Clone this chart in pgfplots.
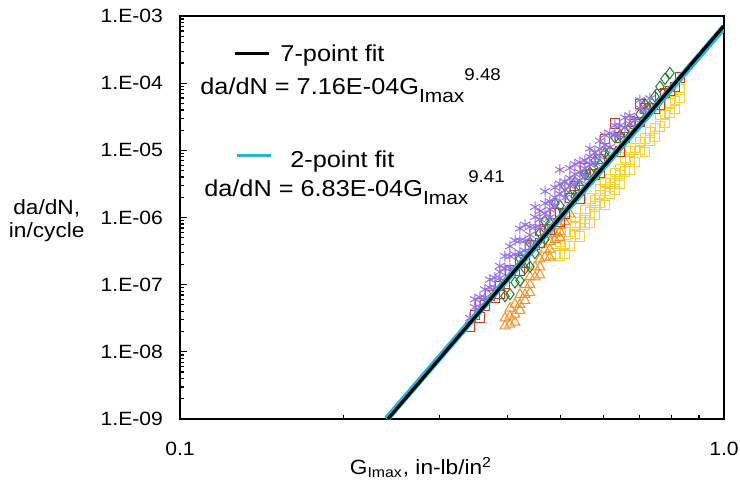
\documentclass[border=0pt]{standalone}
\usepackage{fontspec}
\setmainfont{Liberation Sans}[FakeStretch=1.1]
\usepackage{pgfplots}
\pgfplotsset{compat=1.18}
\definecolor{cfit}{RGB}{30,185,225}
\definecolor{cred}{RGB}{225,50,30}
\definecolor{corange}{RGB}{255,140,30}
\definecolor{cyellow}{RGB}{255,208,50}
\definecolor{cgreen}{RGB}{30,130,40}
\definecolor{cpurple}{RGB}{150,110,240}
\newcommand{\legfont}{\fontsize{11.5}{13}\selectfont}
\newcommand{\Gfit}[1]{G\raisebox{-0.32em}{\fontsize{9.5}{9.5}\selectfont Imax}\raisebox{0.64em}{\fontsize{8.5}{8.5}\selectfont #1}}
\begin{document}
\begin{tikzpicture}
\begin{axis}[
  width=272pt, height=201.5pt, scale only axis,
  xmode=log, ymode=log, xmin=0.1, xmax=1, ymin=1e-9, ymax=1e-3,
  xtick={0.1,1}, xticklabels={0.1,1.0},
  minor xtick={0.2,0.3,0.4,0.5,0.6,0.7,0.8,0.9},
  ytick={1e-9,1e-8,1e-7,1e-6,1e-5,1e-4,1e-3},
  yticklabels={1.E-09,1.E-08,1.E-07,1.E-06,1.E-05,1.E-04,1.E-03},
  minor ytick={2e-9,3e-9,4e-9,5e-9,6e-9,7e-9,8e-9,9e-9,
               2e-8,3e-8,4e-8,5e-8,6e-8,7e-8,8e-8,9e-8,
               2e-7,3e-7,4e-7,5e-7,6e-7,7e-7,8e-7,9e-7,
               2e-6,3e-6,4e-6,5e-6,6e-6,7e-6,8e-6,9e-6,
               2e-5,3e-5,4e-5,5e-5,6e-5,7e-5,8e-5,9e-5,
               2e-4,3e-4,4e-4,5e-4,6e-4,7e-4,8e-4,9e-4},
  tick pos=left, tick align=inside,
  major tick length=3.5pt, minor tick length=2pt,
  axis line style={line width=1.2pt},
  every tick/.style={black, line width=0.6pt},
  ticklabel style={font=\fontsize{9.6}{11}\selectfont},
  yticklabel style={xshift=-5pt},
  xticklabel style={yshift=-8pt},
  clip mode=individual,
  mark options={solid, line width=0.5pt, fill=none},
]
% yellow squares
\addplot[only marks, mark=square, mark size=2.4pt, color=cyellow] coordinates {
(0.4890,2.905e-7) (0.4994,2.700e-7) (0.4994,4.361e-7) (0.5101,4.053e-7) (0.5101,6.114e-7)
(0.5210,3.766e-7) (0.5210,6.085e-7) (0.5322,5.656e-7) (0.5322,9.78e-7) (0.5435,8.49e-7)
(0.5435,5.254e-7) (0.5552,1.275e-6) (0.5552,7.89e-7) (0.5670,1.185e-6) (0.5670,1.914e-6)
(0.5792,1.101e-6) (0.5792,1.779e-6) (0.5915,1.653e-6) (0.5915,2.671e-6) (0.6042,2.476e-6)
(0.6042,1.532e-6) (0.6170,3.718e-6) (0.6170,2.301e-6) (0.6302,3.455e-6) (0.6437,5.186e-6)
(0.6437,3.211e-6) (0.6575,4.82e-6) (0.6575,7.79e-6) (0.6715,7.24e-6) (0.6859,6.725e-6)
(0.6859,1.087e-5) (0.7005,1.010e-5) (0.7156,1.516e-5) (0.7156,9.39e-6) (0.7311,1.409e-5)
(0.7465,2.115e-5) (0.7627,2.256e-5) (0.7627,3.402e-5) (0.7789,3.378e-5) (0.7956,3.601e-5)
(0.7956,5.072e-5) (0.8126,5.408e-5) (0.8300,6.172e-5) (0.8300,8.12e-5)
(0.5101,2.876e-7) (0.5322,7.44e-7) (0.5552,9.69e-7) (0.5670,8.41e-7) (0.5792,1.448e-6)
(0.5915,2.175e-6) (0.6042,3.257e-6) (0.6170,2.827e-6) (0.6302,4.545e-6) (0.6302,2.627e-6)
(0.6437,4.224e-6) (0.6715,5.139e-6) (0.6715,9.52e-6) (0.7005,1.329e-5) (0.7311,1.854e-5)
(0.7465,1.608e-5) (0.7789,2.568e-5) (0.8126,4.111e-5)
};
% orange triangles
\addplot[only marks, mark=triangle, mark size=2.8pt, color=corange] coordinates {
(0.3958,2.418e-8) (0.3958,3.181e-8) (0.4042,2.578e-8) (0.4042,3.390e-8) (0.4042,4.460e-8)
(0.4129,3.614e-8) (0.4129,5.091e-8) (0.4217,5.066e-8) (0.4217,7.137e-8) (0.4308,7.10e-8)
(0.4308,1.000e-7) (0.4399,9.96e-8) (0.4399,1.310e-7) (0.4494,1.303e-7) (0.4494,1.836e-7)
(0.4589,1.828e-7) (0.4589,2.404e-7) (0.4688,2.562e-7) (0.4688,3.370e-7) (0.4787,3.346e-7)
(0.4787,4.401e-7) (0.4890,4.692e-7) (0.4890,5.765e-7) (0.4994,6.143e-7) (0.4994,7.545e-7)
(0.5101,8.61e-7) (0.5210,1.127e-6)
(0.4129,2.747e-8) (0.4217,4.125e-8) (0.4308,5.783e-8) (0.4399,7.57e-8) (0.4589,1.390e-7)
(0.4787,2.544e-7) (0.4994,5.001e-7)
};
% red squares
\addplot[only marks, mark=square, mark size=2.4pt, color=cred] coordinates {
(0.3412,2.339e-8) (0.3485,3.513e-8) (0.3560,3.264e-8) (0.3636,4.90e-8) (0.3714,6.87e-8)
(0.3793,6.37e-8) (0.3875,9.57e-8) (0.3958,1.020e-7) (0.4042,1.640e-7) (0.4129,1.632e-7)
(0.4217,2.288e-7) (0.4308,2.126e-7) (0.4399,3.92e-7) (0.4494,3.90e-7) (0.4589,4.16e-7)
(0.4688,6.69e-7) (0.4787,6.64e-7) (0.4890,1.144e-6) (0.4994,1.138e-6) (0.5101,1.133e-6)
(0.5210,1.950e-6) (0.5322,2.928e-6) (0.5435,2.541e-6) (0.5552,5.375e-6) (0.5670,4.355e-6)
(0.5792,4.335e-6) (0.5915,7.46e-6) (0.6042,1.471e-5) (0.6170,9.06e-6) (0.6302,2.520e-5)
(0.6437,1.553e-5) (0.6575,1.545e-5) (0.6715,2.661e-5) (0.6859,2.474e-5) (0.7005,2.636e-5)
(0.7156,4.24e-5) (0.7311,4.22e-5) (0.7465,4.20e-5) (0.7627,6.75e-5) (0.7789,7.18e-5)
(0.7956,7.65e-5) (0.8126,8.74e-5) (0.8300,1.2246e-4)
(0.3560,5.274e-8) (0.3875,7.27e-8) (0.4217,1.624e-7) (0.4589,6.275e-7) (0.4994,8.65e-7)
(0.5435,1.932e-6) (0.5915,4.618e-6) (0.6437,9.61e-6) (0.7005,4.884e-5) (0.7627,4.793e-5)
};
% green diamonds
\addplot[only marks, mark=diamond, mark size=2.8pt, color=cgreen] coordinates {
(0.3958,6.76e-8) (0.4042,7.21e-8) (0.4129,1.082e-7) (0.4217,1.153e-7) (0.4308,1.731e-7)
(0.4399,1.845e-7) (0.4494,2.966e-7) (0.4217,2.450e-7) (0.4399,4.20e-7) (0.4589,5.86e-7)
(0.4688,8.80e-7) (0.4787,8.15e-7) (0.4890,1.611e-6) (0.4994,1.497e-6) (0.5101,2.957e-6)
(0.5210,2.089e-6) (0.5322,3.358e-6) (0.5435,2.914e-6) (0.5552,4.376e-6) (0.5670,4.664e-6)
(0.5792,7.00e-6) (0.5915,6.078e-6) (0.6042,9.11e-6) (0.6170,9.70e-6) (0.6437,1.663e-5)
(0.6715,2.167e-5) (0.7005,3.467e-5) (0.7311,4.518e-5) (0.7627,8.88e-5) (0.7789,1.160e-4)
(0.7956,1.418e-4)
(0.4688,4.747e-7) (0.5322,2.079e-6) (0.6302,1.561e-5) (0.6575,1.898e-5) (0.7156,4.860e-5)
(0.7465,6.333e-5)
};
% purple asterisks
\addplot[only marks, mark=asterisk, mark size=2.8pt, color=cpurple] coordinates {
(0.3412,3.185e-8) (0.3485,4.62e-8) (0.3560,4.60e-8) (0.3560,6.48e-8) (0.3636,6.45e-8)
(0.3714,9.04e-8) (0.3714,1.189e-7) (0.3793,8.98e-8) (0.3793,1.265e-7) (0.3875,1.258e-7)
(0.3875,1.899e-7) (0.3958,1.765e-7) (0.3958,2.662e-7) (0.4042,1.756e-7) (0.4042,2.649e-7)
(0.4129,2.823e-7) (0.4129,4.56e-7) (0.4217,3.01e-7) (0.4217,4.54e-7) (0.4308,4.52e-7)
(0.4308,7.82e-7) (0.4399,4.20e-7) (0.4399,7.26e-7) (0.4494,7.23e-7) (0.4494,1.435e-6)
(0.4589,7.20e-7) (0.4589,1.245e-6) (0.4688,1.157e-6) (0.4688,2.458e-6) (0.4787,1.002e-6)
(0.4787,1.733e-6) (0.4890,1.504e-6) (0.4890,2.788e-6) (0.4994,2.259e-6) (0.4994,5.14e-6)
(0.5101,1.960e-6) (0.5101,3.39e-6) (0.5210,2.943e-6) (0.5210,5.45e-6) (0.5322,4.42e-6)
(0.5322,3.136e-6) (0.5435,6.63e-6) (0.5435,4.71e-6) (0.5552,4.09e-6) (0.5552,7.07e-6)
(0.5670,6.13e-6) (0.5670,1.061e-5) (0.5792,9.21e-6) (0.5915,7.99e-6) (0.5915,1.383e-5)
(0.6042,1.198e-5) (0.6170,1.798e-5) (0.6170,1.113e-5) (0.6302,1.671e-5) (0.6437,2.342e-5)
(0.6575,2.177e-5) (0.6715,3.27e-5) (0.6859,2.837e-5) (0.7005,4.26e-5) (0.7156,3.96e-5)
(0.3485,6.078e-8) (0.3636,8.48e-8) (0.3875,1.546e-7) (0.4042,3.731e-7) (0.4217,6.85e-7)
(0.4308,3.207e-7) (0.4399,5.523e-7) (0.4494,1.018e-6) (0.4589,9.47e-7) (0.4688,1.630e-6)
(0.4787,1.318e-6) (0.4890,1.979e-6) (0.4994,3.181e-6) (0.5101,2.578e-6) (0.5210,3.870e-6)
(0.5322,6.223e-6) (0.5435,3.579e-6) (0.5552,5.375e-6) (0.5670,8.07e-6) (0.5792,6.54e-6)
(0.5915,1.051e-5) (0.6042,1.687e-5) (0.6302,2.353e-5) (0.6437,1.663e-5) (0.6575,3.066e-5)
(0.6715,2.486e-5) (0.7005,5.602e-5) (0.7311,5.94e-5)
};
% fits
\addplot[cfit, line width=3.2pt] coordinates {(0.2399,1e-9) (1,6.83e-4)};
\addplot[black, line width=1.6pt] coordinates {(0.2411,1e-9) (1,7.16e-4)};
% legend
\draw[black, line width=1.5pt] (rel axis cs:0.101,0.906) -- (rel axis cs:0.164,0.906);
\node[anchor=base west, inner sep=0pt, font=\legfont] at (rel axis cs:0.184,0.886) {7-point fit};
\node[anchor=base west, inner sep=0pt, font=\legfont] at (rel axis cs:0.0368,0.804) {da/dN = 7.16E-04\Gfit{9.48}};
\draw[cfit, line width=1.5pt] (rel axis cs:0.105,0.655) -- (rel axis cs:0.167,0.655);
\node[anchor=base west, inner sep=0pt, font=\legfont] at (rel axis cs:0.202,0.623) {2-point fit};
\node[anchor=base west, inner sep=0pt, font=\legfont] at (rel axis cs:0.044,0.551) {da/dN = 6.83E-04\Gfit{9.41}};
% axis labels
\node[align=center, font=\fontsize{10.3}{11.5}\selectfont] at (rel axis cs:-0.245,0.492) {da/dN,\\in/cycle};
\node[font=\fontsize{10.3}{12}\selectfont] at (rel axis cs:0.443,-0.12) {G\textsubscript{Imax}, in-lb/in\textsuperscript{2}};
\coordinate (SW) at (rel axis cs:0,0);
\coordinate (NE) at (rel axis cs:1,1);
\end{axis}
\pgfresetboundingbox
\path (SW) ++(-90pt,-32pt) rectangle ([xshift=8pt,yshift=8pt]NE);
\end{tikzpicture}
\end{document}
